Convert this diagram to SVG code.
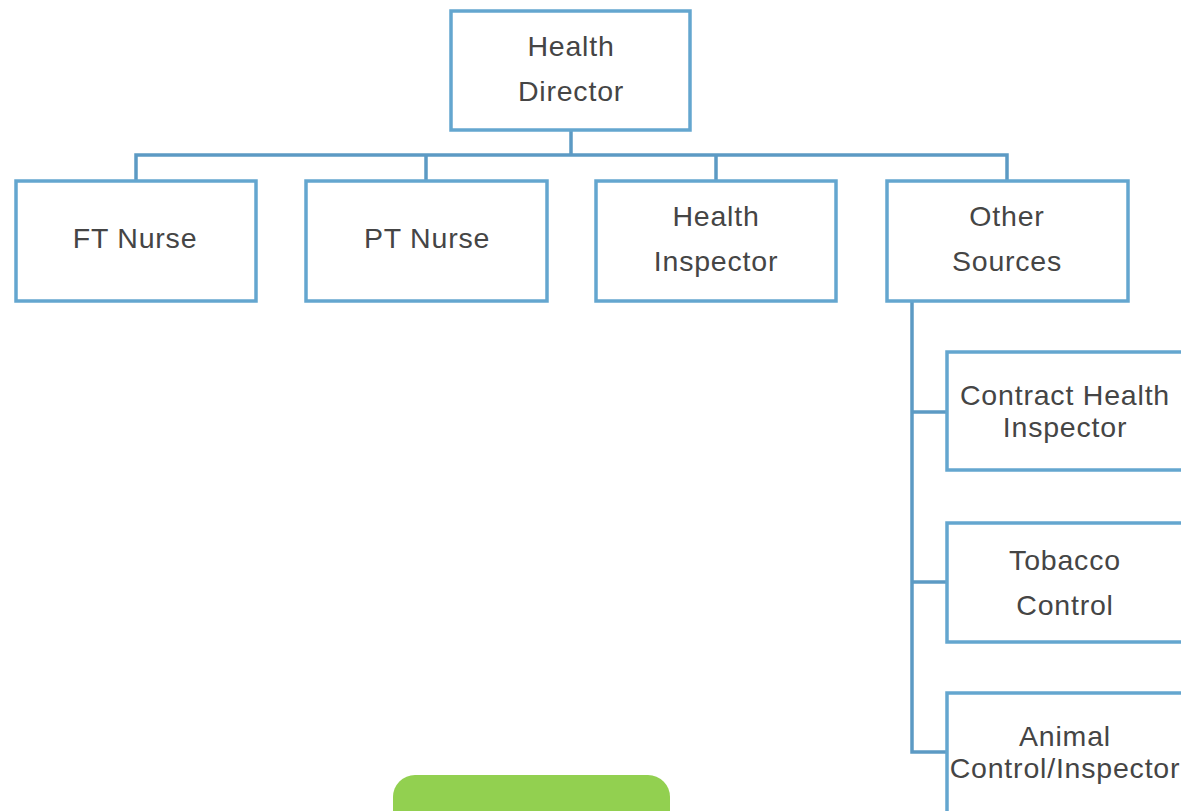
<svg xmlns="http://www.w3.org/2000/svg" width="1181" height="811" viewBox="0 0 1181 811">
<style>
.box{fill:#fff;stroke:#64a6cf;stroke-width:3.5}
.t{font-family:"Liberation Sans",Arial,sans-serif;font-size:28.5px;letter-spacing:0.8px;fill:#454545;text-anchor:middle}
.c{fill:none;stroke:#5c9ac4;stroke-width:3.5}
</style>
<rect width="1181" height="811" fill="#fff"/>
<g id="connectors">
<path class="c" d="M571 130 V155 M136 181 V155 H1007 V181 M426 155 V181 M716 155 V181"/>
<path class="c" d="M912 302 V752 H947 M912 412 H947 M912 582 H947"/>
</g>
<g id="health-director"><rect class="box" x="451" y="11" width="239" height="119"/><text class="t" x="571" y="56">Health</text><text class="t" x="571" y="101">Director</text></g>
<g id="ft-nurse"><rect class="box" x="16" y="181" width="240" height="120"/><text class="t" x="135" y="248">FT Nurse</text></g>
<g id="pt-nurse"><rect class="box" x="306" y="181" width="241" height="120"/><text class="t" x="427" y="248">PT Nurse</text></g>
<g id="health-inspector"><rect class="box" x="596" y="181" width="240" height="120"/><text class="t" x="716" y="226">Health</text><text class="t" x="716" y="271">Inspector</text></g>
<g id="other-sources"><rect class="box" x="887" y="181" width="241" height="120"/><text class="t" x="1007" y="226">Other</text><text class="t" x="1007" y="271">Sources</text></g>
<g id="contract-health-inspector"><rect class="box" x="947" y="352" width="240" height="118"/><text class="t" x="1065" y="405">Contract Health</text><text class="t" x="1065" y="437">Inspector</text></g>
<g id="tobacco-control"><rect class="box" x="947" y="523" width="240" height="119"/><text class="t" x="1065" y="570">Tobacco</text><text class="t" x="1065" y="615">Control</text></g>
<g id="animal-control"><rect class="box" x="947" y="693" width="240" height="130"/><text class="t" x="1065" y="746">Animal</text><text class="t" x="1065" y="778">Control/Inspector</text></g>
<rect x="393" y="775" width="277" height="60" rx="22" fill="#92d050"/>
</svg>
